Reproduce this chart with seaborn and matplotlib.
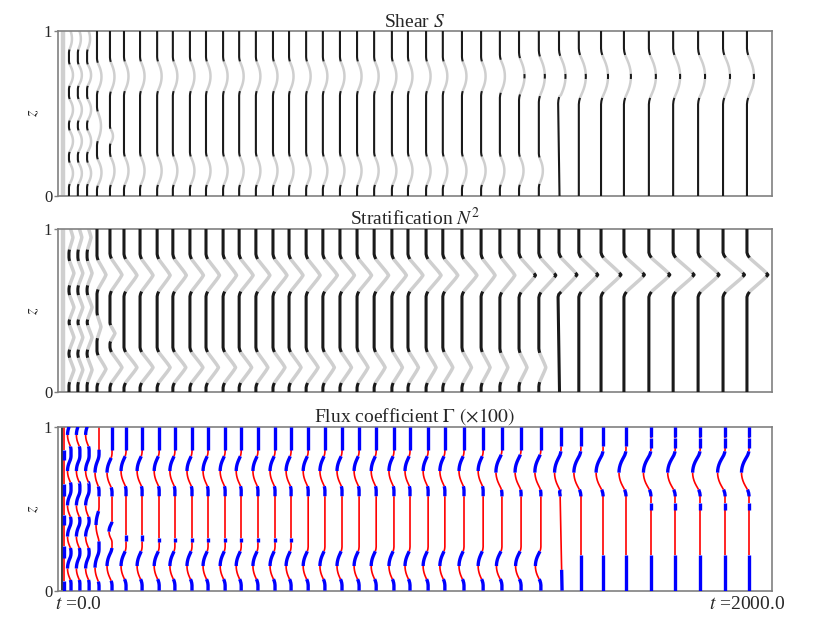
import numpy as np
import matplotlib
matplotlib.use("Agg")
import matplotlib.pyplot as plt
import matplotlib.transforms as mtransforms
import seaborn as sns

# times of the plotted profiles (the t=0 profile is drawn on its own)
t_prof = [16, 42, 69, 98, 136, 177, 224, 274, 320, 370, 417, 467, 514, 563,
          613, 660, 710, 759, 809, 859, 909, 961, 1008, 1061, 1110, 1166,
          1222, 1277, 1333, 1391, 1450, 1508, 1573, 1640, 1713, 1784, 1857,
          1930, 2000]
# sideways drift of the lower part of each profile (bottom relative to z=0.6)
lean = [0] * 30 + [2] + [0] * 8

# half shapes of an interface bump (|dz| in half-widths)
half_dz = [0.0, 0.15, 0.3, 0.45, 0.6, 0.75, 0.9, 1.0, 1.15, 1.3]
arc_shape = [1.0, 0.98, 0.92, 0.82, 0.68, 0.5, 0.3, 0.17, 0.05, 0.0]
peak_shape = [1.0, 0.89, 0.76, 0.62, 0.48, 0.34, 0.2, 0.12, 0.04, 0.0]

# shear S: interface heights, half widths, bump heights
S_zc = ([[0.95, 0.73, 0.52, 0.33, 0.135]] * 3
        + [[0.72, 0.42, 0.14], [0.72, 0.36, 0.15]]
        + [[0.723, 0.151]] * 25 + [[0.722]] * 9)
S_hw = ([[0.065] * 5] * 3
        + [[0.085, 0.09, 0.08], [0.09, 0.045, 0.085]]
        + [[0.09, 0.086]] * 22
        + [[0.10, 0.085], [0.11, 0.085], [0.12, 0.08]]
        + [[0.125]] + [[0.13]] * 8)
S_amp = ([[3, 4, 4, 4, 4]] * 3
         + [[4.5, 4, 4.5], [4.5, 3, 4.5]]
         + [[4.5, 4.5]] * 22
         + [[5, 4.5], [5.5, 4.5], [6, 4]]
         + [[6.5]] + [[7]] * 8)
S_dot = [False] * 28 + [True] * 11

# stratification N^2
N_zc = ([[0.95, 0.73, 0.52, 0.335, 0.135]] * 3
        + [[0.72, 0.40, 0.14], [0.72, 0.36, 0.15]]
        + [[0.717, 0.15]] * 25 + [[0.72]] * 9)
N_hw = ([[0.075] * 5] * 3
        + [[0.09, 0.07, 0.085], [0.1, 0.05, 0.095]]
        + [[0.1, 0.095]] * 22 + [[0.105, 0.09]] * 3 + [[0.105]] * 9)
N_amp = ([[4, 5, 5, 5, 5]] * 3
         + [[9, 4, 9], [12, 5, 12],
            [13, 13], [13, 13], [13, 13], [13.5, 13], [13.5, 13],
            [13.5, 12.5], [13.5, 12.5], [14, 12.5], [14, 12], [14, 12],
            [14, 12], [14, 12], [14.5, 11.5], [14.5, 11.5], [14.5, 11],
            [14.5, 11], [14.5, 10.5], [15, 10.5], [15, 10], [15, 10],
            [15, 9.5], [14, 9],
            [15, 8], [16.5, 8], [17, 7],
            [18], [19], [20], [20.5], [21], [21], [21], [21.5], [21]])
N_dot = [False] * 28 + [True] * 11

# flux coefficient Gamma: dips and the z-ranges drawn in blue
G_zc = ([[0.95, 0.73, 0.52, 0.33, 0.135]] * 3
        + [[0.72, 0.40, 0.14], [0.72, 0.36, 0.15]]
        + [[0.73, 0.15]] * 22 + [[0.725, 0.15]] * 3 + [[0.72]] * 9)
G_hw = ([[0.07] * 5] * 3
        + [[0.085, 0.085, 0.085], [0.09, 0.05, 0.09]]
        + [[0.09, 0.09]] * 22 + [[0.1, 0.09]] * 3 + [[0.107]] * 9)
G_amp = ([[-3.5] * 5] * 3
         + [[-4, -3, -4], [-5, -3, -5]]
         + [[-5, -5]] * 22 + [[-6, -5.5]] * 3
         + [[-6.5]] + [[-7]] * 3 + [[-7.5]] * 5)
G_blue = ([[(0.95, 1.0), (0.73, 0.88), (0.52, 0.66), (0.33, 0.45), (0.135, 0.26), (0, 0.065)]] * 3
          + [[(0.72, 0.86), (0.575, 0.635), (0.40, 0.485), (0.14, 0.30), (0, 0.055)]]
          + [[(0.86, 1), (0.72, 0.81), (0.575, 0.63), (0.36, 0.42), (0.15, 0.26), (0, 0.06)]]
          + [[(0.86, 1), (0.73, 0.82), (0.576, 0.637), (0.30, 0.34), (0.15, 0.24), (0, 0.07)]] * 2
          + [[(0.86, 1), (0.73, 0.82), (0.576, 0.637), (0.295, 0.32), (0.15, 0.24), (0, 0.07)]] * 9
          + [[(0.86, 1), (0.73, 0.82), (0.576, 0.637), (0.15, 0.24), (0, 0.07)]] * 11
          + [[(0.86, 1), (0.72, 0.83), (0.575, 0.615), (0.15, 0.24), (0, 0.07)]] * 3
          + [[(0.88, 1), (0.72, 0.85), (0.575, 0.615), (0, 0.127)]]
          + [[(0.88, 1), (0.72, 0.85), (0.575, 0.616), (0, 0.218)]] * 3
          + [[(0.94, 1), (0.87, 0.93), (0.72, 0.85), (0.575, 0.616), (0.49, 0.535), (0, 0.218)]] * 5)
G0_blue = [(0.80, 0.86), (0.58, 0.65), (0.40, 0.46), (0.20, 0.27), (0, 0.06)]

SCALE = 2000 / 683.5   # t units per offset unit
G_SHIFT = 6            # flux profiles sit slightly right of the others

sns.set_theme(style="white")
plt.rcParams["font.family"] = ["Liberation Serif", "DejaVu Serif"]
plt.rcParams["mathtext.fontset"] = "stix"


def profile_xy(t0, zc, hw, amp, shape, cuts, drift):
    dz = np.concatenate([-np.array(half_dz[::-1]), np.array(half_dz[1:])])
    sv = np.concatenate([np.array(shape[::-1]), np.array(shape[1:])])
    zs = [np.array([-0.2, 0.6, 1.2]), np.array(cuts, float)]
    for c, h in zip(zc, hw):
        zs.append(c + h * dz)
    z = np.unique(np.concatenate(zs))
    off = np.interp(z, [0.0, 0.6], [drift / 2, -drift / 2], left=drift / 2, right=0.0)
    for c, h, a in zip(zc, hw, amp):
        off += np.interp(z, c + h * dz, a * sv, left=0.0, right=0.0)
    return t0 + SCALE * off, z


def draw_runs(ax, x, z, labels, styles):
    start = 0
    for k in range(1, len(labels) + 1):
        if k == len(labels) or labels[k] != labels[start]:
            ax.plot(x[start:k + 1], z[start:k + 1], solid_capstyle="butt",
                    **styles[labels[start]])
            start = k


def band_panel(ax, zcs, hws, amps, dots, shape, dot_frac, styles):
    for t0, zc, hw, amp, dot, dr in zip(t_prof, zcs, hws, amps, dots, lean):
        cuts = []
        for c, h in zip(zc, hw):
            cuts += [c - h, c + h]
            if dot and c > 0.5:
                cuts += [c - dot_frac * h, c + dot_frac * h]
        x, z = profile_xy(t0, zc, hw, amp, shape, cuts, dr)
        mid = 0.5 * (z[1:] + z[:-1])
        lab = np.zeros(len(mid), int)
        for c, h in zip(zc, hw):
            lab[np.abs(mid - c) < h] = 1
            if dot and c > 0.5:
                lab[np.abs(mid - c) < dot_frac * h] = 0
        draw_runs(ax, x, z, lab, styles)
    ax.plot([0, 0], [0, 1], color="#cfcfcf", lw=3.2, solid_capstyle="butt", zorder=1)


def flux_labels(z, blue):
    mid = 0.5 * (z[1:] + z[:-1])
    lab = np.zeros(len(mid), int)
    for lo, hi in blue:
        lab[(mid > lo) & (mid < hi)] = 1
    return lab


fig = plt.figure(figsize=(8.3, 6.23), dpi=100)
ax1 = fig.add_axes([0.0695, 0.686, 0.8605, 0.265])
ax2 = fig.add_axes([0.0695, 0.371, 0.8605, 0.261])
ax3 = fig.add_axes([0.0695, 0.052, 0.8605, 0.263])

s_styles = {0: dict(color="k", lw=1.5, zorder=3), 1: dict(color="#cfcfcf", lw=1.8, zorder=2)}
n_styles = {0: dict(color="k", lw=2.2, zorder=3), 1: dict(color="#cfcfcf", lw=2.5, zorder=2)}
g_styles = {0: dict(color="red", lw=1.2, zorder=2), 1: dict(color="blue", lw=2.4, zorder=3)}

band_panel(ax1, S_zc, S_hw, S_amp, S_dot, arc_shape, 0.12, s_styles)
band_panel(ax2, N_zc, N_hw, N_amp, N_dot, peak_shape, 0.12, n_styles)

for t0, zc, hw, amp, blue, dr in zip(t_prof, G_zc, G_hw, G_amp, G_blue, lean):
    cuts = [v for seg in blue for v in seg]
    x, z = profile_xy(t0 + G_SHIFT, zc, hw, amp, arc_shape, cuts, dr)
    draw_runs(ax3, x, z, flux_labels(z, blue), g_styles)
ax3.plot([-3, -3], [0, 1], color="k", lw=1.2, zorder=2)
z0 = np.unique(np.array([-0.2, 1.2] + [v for seg in G0_blue for v in seg]))
draw_runs(ax3, np.full_like(z0, 2.0), z0, flux_labels(z0, G0_blue), g_styles)

titles = ["Shear $S$", "Stratification $N^2$", r"Flux coefficient $\Gamma$ $(\times 100)$"]
for ax, title in zip([ax1, ax2, ax3], titles):
    ax.set_xlim(-17, 2073)
    ax.set_ylim(0, 1)
    ax.set_xticks([])
    ax.set_yticks([0, 1])
    ax.set_yticklabels(["0", "1"], fontsize=12)
    ax.tick_params(axis="y", left=True, length=3, width=1, color="0.5", pad=1)
    ax.set_ylabel("$z$", fontsize=12, labelpad=2)
    ax.set_title(title, fontsize=14, pad=2)
    for sp in ax.spines.values():
        sp.set_color("0.5")
        sp.set_linewidth(1.2)

trans = mtransforms.blended_transform_factory(ax3.transData, ax3.transAxes)
ax3.text(44, -0.085, "$t$ =0.0", transform=trans, ha="center", va="center", fontsize=14)
ax3.text(2000, -0.085, "$t$ =2000.0", transform=trans, ha="center", va="center", fontsize=14)

fig.savefig("out.png", dpi=100)
